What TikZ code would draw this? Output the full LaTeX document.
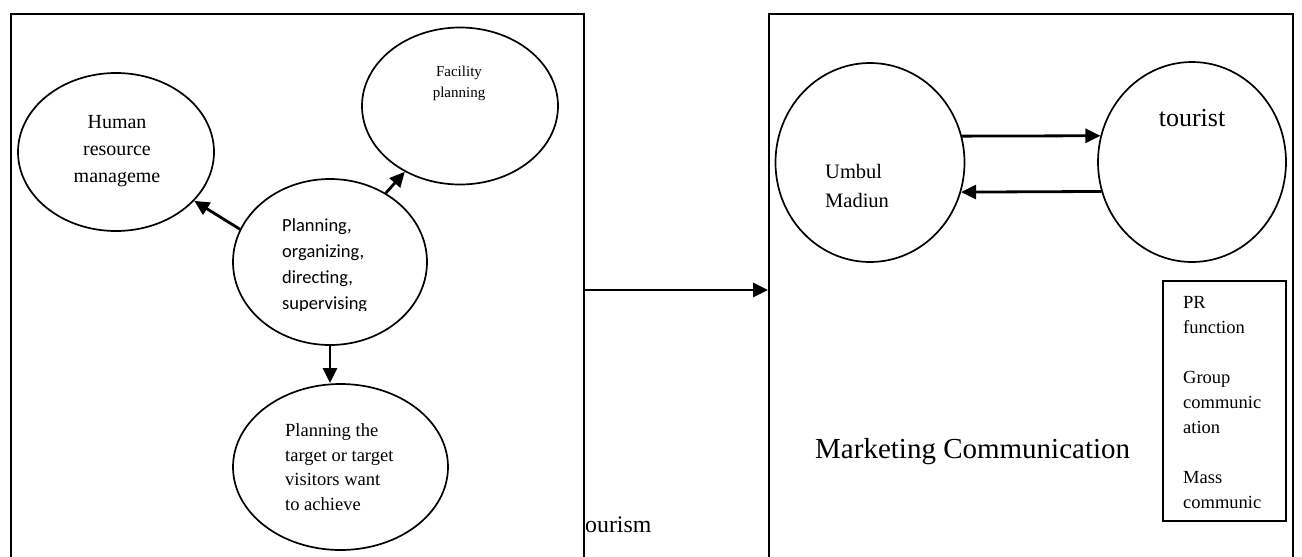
\documentclass[tikz,border=0pt]{standalone}
\usepackage{fontspec}
\setmainfont{Liberation Serif}
\newfontfamily\calibrifont{Carlito}
\usetikzlibrary{arrows.meta,shapes.geometric}
\begin{document}
\begin{tikzpicture}[x=1pt,y=-1pt,
  frame/.style={draw, rectangle, line width=2pt, inner sep=0pt, anchor=north west},
  bubble/.style={draw, ellipse, line width=1.7pt, inner sep=0pt},
  link/.style={line width=2.8pt, -{Triangle[length=15pt,width=14pt]}},
  lefttext/.style={inner sep=0pt, anchor=base west, align=left},
  midtext/.style={inner sep=0pt, anchor=base, align=center},
]
\useasboundingbox (0,0) rectangle (1302,557);
\clip (0,0) rectangle (1302,557);

% the two panels, running off the lower edge
\node[frame, minimum width=572.5pt, minimum height=552pt] (left) at (10,13) {};
\node[frame, minimum width=524pt, minimum height=552pt] (right) at (768,13) {};

% management panel (multi-line texts are placed by the baseline of their last line)
\node[bubble, minimum width=196pt, minimum height=158pt] (human) at (116,152) {};
\node[bubble, minimum width=196pt, minimum height=157pt] (facility) at (460,106) {};
\node[bubble, minimum width=194pt, minimum height=166pt] (plan) at (330,262) {};
\node[bubble, minimum width=215pt, minimum height=166pt] (target) at (340.5,467) {};

\node[midtext, font=\fontsize{20}{27}\selectfont] (humantext) at (117,182) {Human\\resource\\manageme};
\node[midtext, font=\fontsize{15}{21}\selectfont] (facilitytext) at (459,97) {Facility\\planning};
\begin{scope}
  \clip (200,150) rectangle (460,310.5);
  \node[lefttext, font=\calibrifont\fontsize{18.5}{25.7}\selectfont] (plantext) at (282,309)
    {Planning,\\organizing,\\directing,\\supervising};
\end{scope}
\node[lefttext, font=\fontsize{18.5}{24.5}\selectfont] (targettext) at (285,510)
  {Planning the\\target or target\\visitors want\\to achieve};
\node[lefttext, font=\fontsize{23.8}{28}\selectfont] (tourism) at (585,532) {ourism};

\draw[link] (plan.160) -- (human.-32);
\draw[link] (plan.51) -- (facility.-130);
\draw[link] (plan.south) -- (plan.south |- target.north);
\draw[link] (left.east) -- (right.west);

% communication panel
\node[bubble, minimum width=189pt, minimum height=199pt] (umbul) at (870,162.5) {};
\node[bubble, minimum width=188pt, minimum height=200pt] (tourist) at (1192,162) {};
\node[midtext, font=\fontsize{26}{30}\selectfont] (touristtext) at (1192,126) {tourist};
\node[lefttext, font=\fontsize{20.5}{29}\selectfont] (umbultext) at (825,207) {Umbul\\Madiun};

\draw[link] (umbul.16) -- (tourist.164);
\draw[link] (tourist.-162) -- (umbul.-18);

\node[lefttext, font=\fontsize{29}{34}\selectfont] (marketing) at (815,458) {Marketing Communication};

\node[frame, line width=1.7pt, minimum width=123pt, minimum height=240pt] (prbox) at (1162,280) {};
\node[lefttext, font=\fontsize{18.5}{25}\selectfont] (prtext) at (1183,508)
  {PR\\function\\[25pt]Group\\communic\\ation\\[25pt]Mass\\communic};
\end{tikzpicture}
\end{document}
